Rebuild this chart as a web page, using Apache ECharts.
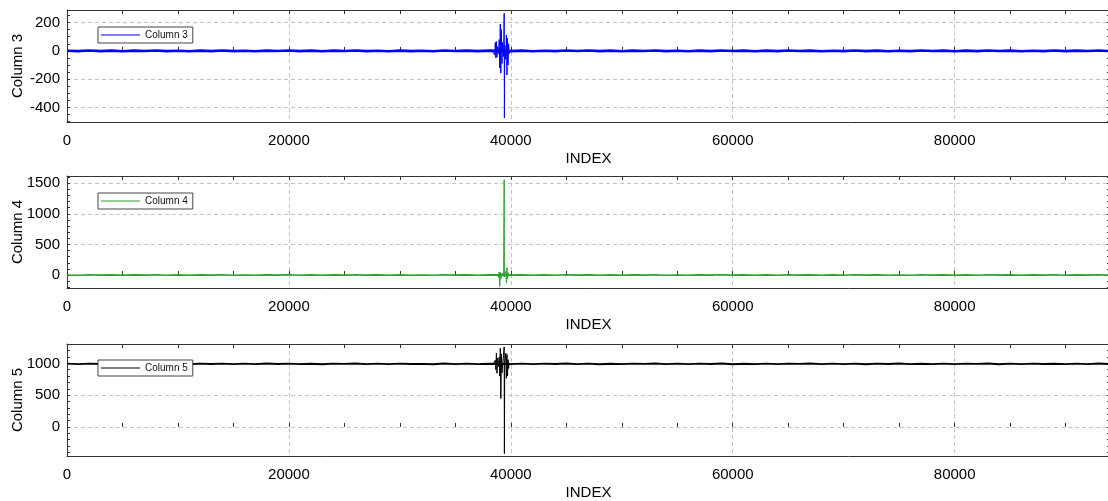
<!DOCTYPE html>
<html><head><meta charset="utf-8">
<script src="https://cdn.jsdelivr.net/npm/echarts@6/dist/echarts.min.js"></script>
<style>html,body{margin:0;padding:0;background:#fff}#c{width:1108px;height:501px}</style>
</head><body><div id="c"></div>
<script>
// ---------------- DATA ----------------
const seriesNames = ['Column 3', 'Column 4', 'Column 5'];
const xTickLabels = [0, 20000, 40000, 60000, 80000];
const col3TickLabels = [-400, -200, 0, 200];
const col4TickLabels = [0, 500, 1000, 1500];
const col5TickLabels = [0, 500, 1000];
const xMin = 0, xMax = 94000;
const col3Range = [-503, 289];
const col4Range = [-212, 1619];
const col5Range = [-458, 1305];

// baseline noise: segment A starts at index 0, segment B at 40000, one sample every 1000 indices
const noiseStep = 1000;
const noiseBStart = 40000;

const col3NoiseA = [1,-2,3,-2,2,-3,2,-1,3,-2,1,-3,2,-2,3,-2,1,-3,2,-1,3,-2,2,-3,2,-1,3,-2,1,-3,2,-2,1,-3,3,-1,2,-2,2];
const col3NoiseB = [-2,2,-3,1,-2,3,-1,3,-2,2,-3,2,-1,3,-2,1,-3,2,-2,3,-1,2,-3,2,-2,3,-1,2,-3,1,-2,3,-2,2,-3,1,-2,3,-1,2,-3,2,-2,3,-1,2,-3,1,-2,3,-2,2,-1,3,-2];
const col3BurstIndex = [38300,38550,38600,38650,38700,38750,38800,38900,38950,39000,39050,39100,39150,39200,39250,39350,39400,39420,39450,39550,39600,39650,39700,39750,39800,39850,39900];
const col3BurstValue = [5,-30,60,-50,66,-45,30,-20,80,-120,190,-157,150,-90,60,-40,266,-475,40,-60,113,-170,90,-100,50,-20,8];

const col4NoiseA = [1,-3,4,-2,3,-4,2,-1,4,-3,2,-4,3,-2,4,-3,1,-4,3,-2,4,-3,2,-4,3,-1,4,-2,2,-4,3,-3,1,-4,4,-2,3,-3,2];
const col4NoiseB = [-2,3,-4,2,-3,4,-1,3,-4,2,-4,3,-2,4,-3,1,-4,3,-2,4,-2,3,-4,2,-3,4,-1,3,-4,2,-3,4,-2,3,-4,1,-3,4,-2,3,-4,2,-3,4,-1,3,-4,2,-2,4,-3,2,-1,4,-2];
const col4BurstIndex = [38850,38900,38950,39000,39050,39100,39200,39350,39400,39420,39550,39600,39650,39700,39750,39850];
const col4BurstValue = [4,-40,50,-185,40,-60,30,-20,1560,-30,60,-125,120,-60,40,-5];

const col5NoiseA = [995,988,997,990,996,987,994,991,998,989,993,986,997,990,996,988,995,987,998,990,996,989,994,986,997,991,998,988,995,987,996,990,993,986,998,989,995,988,994];
const col5NoiseB = [989,996,987,995,990,998,988,997,986,994,989,997,991,998,987,995,988,996,990,998,986,994,989,997,988,995,991,998,987,996,989,997,986,995,990,998,988,994,987,997,989,996,991,998,986,995,988,997,990,994,987,996,989,998,988];
const col5BurstIndex = [38400,38600,38650,38700,38750,38800,38900,38950,39000,39050,39100,39150,39200,39300,39400,39420,39450,39550,39600,39650,39700,39750,39800,39850];
const col5BurstValue = [990,1050,900,1160,845,1080,950,1100,800,1237,448,1150,850,1050,1260,-420,1000,1160,765,1140,800,1060,920,1000];

// ---------------- BUILD ----------------
function noisePoints(noiseA, noiseB) {
  const pts = [];
  noiseA.forEach((v, i) => pts.push([i * noiseStep, v]));
  noiseB.forEach((v, i) => pts.push([noiseBStart + i * noiseStep, v]));
  return pts;
}
function burstPoints(noiseA, burstIdx, burstVal, noiseB) {
  const pts = [[(noiseA.length - 1) * noiseStep, noiseA[noiseA.length - 1]]];
  burstIdx.forEach((x, i) => pts.push([x, burstVal[i]]));
  pts.push([noiseBStart, noiseB[0]]);
  return pts;
}
function stepTicks(from, to, step) {
  const t = [];
  for (let v = from; v <= to; v += step) t.push(v);
  return t;
}
const xMinorTicks = stepTicks(0, 90000, 5000);
const panels = [
  { name: seriesNames[0], color: '#0000ff', range: col3Range, labels: col3TickLabels,
    minor: stepTicks(-500, 250, 50), baseWidth: 2.6,
    base: noisePoints(col3NoiseA, col3NoiseB),
    burst: burstPoints(col3NoiseA, col3BurstIndex, col3BurstValue, col3NoiseB), top: 10, legendTop: 27 },
  { name: seriesNames[1], color: '#2ca02c', range: col4Range, labels: col4TickLabels,
    minor: stepTicks(-200, 1600, 100), baseWidth: 1.6,
    base: noisePoints(col4NoiseA, col4NoiseB),
    burst: burstPoints(col4NoiseA, col4BurstIndex, col4BurstValue, col4NoiseB), top: 176, legendTop: 193 },
  { name: seriesNames[2], color: '#000000', range: col5Range, labels: col5TickLabels,
    minor: stepTicks(-400, 1300, 100), baseWidth: 1.8,
    base: noisePoints(col5NoiseA, col5NoiseB),
    burst: burstPoints(col5NoiseA, col5BurstIndex, col5BurstValue, col5NoiseB), top: 344, legendTop: 360 }
];

const font = 'Liberation Sans';
const axisColor = '#333';
const gridLineColor = '#c4c4c4';
const plain = v => String(v);
const grids = [], xAxes = [], yAxes = [], series = [], legends = [];

panels.forEach((p, g) => {
  grids.push({ left: 67, width: 1043, top: p.top, height: 112, containLabel: false, outerBoundsMode: 'none' });
  const xi = xAxes.length, yi = yAxes.length;
  xAxes.push({
    type: 'value', gridIndex: g, min: xMin, max: xMax, position: 'bottom',
    axisLine: { show: true, onZero: false, lineStyle: { color: axisColor, width: 1 } },
    axisTick: { show: false, customValues: xTickLabels },
    axisLabel: { customValues: xTickLabels, formatter: plain, fontSize: 15, fontFamily: font, color: '#000', margin: 11 },
    splitLine: { show: true, lineStyle: { type: [4, 3], color: gridLineColor, width: 1 } },
    name: 'INDEX', nameLocation: 'middle', nameGap: 29, nameMoveOverlap: false,
    nameTextStyle: { fontSize: 15, fontFamily: font, color: '#000' }
  });
  xAxes.push({
    type: 'value', gridIndex: g, min: xMin, max: xMax, position: 'bottom',
    axisLine: { show: false }, axisLabel: { show: false }, splitLine: { show: false },
    axisTick: { show: true, inside: true, length: 4, customValues: xMinorTicks, lineStyle: { color: axisColor } }
  });
  xAxes.push({
    type: 'value', gridIndex: g, min: xMin, max: xMax, position: 'top',
    axisLine: { show: true, onZero: false, lineStyle: { color: axisColor, width: 1 } },
    axisLabel: { show: false }, splitLine: { show: false },
    axisTick: { show: true, inside: true, length: 4, customValues: xMinorTicks, lineStyle: { color: axisColor } }
  });
  yAxes.push({
    type: 'value', gridIndex: g, min: p.range[0], max: p.range[1], position: 'left',
    axisLine: { show: true, onZero: false, lineStyle: { color: axisColor, width: 1 } },
    axisTick: { show: false, customValues: p.labels },
    axisLabel: { customValues: p.labels, formatter: plain, fontSize: 15, fontFamily: font, color: '#000', margin: 7 },
    splitLine: { show: true, lineStyle: { type: [4, 3], color: gridLineColor, width: 1 } },
    name: p.name, nameLocation: 'middle', nameGap: 42, nameMoveOverlap: false,
    nameTextStyle: { fontSize: 15, fontFamily: font, color: '#000' }
  });
  yAxes.push({
    type: 'value', gridIndex: g, min: p.range[0], max: p.range[1], position: 'left',
    axisLine: { show: false }, axisLabel: { show: false }, splitLine: { show: false },
    axisTick: { show: true, inside: true, length: 3, customValues: p.minor, lineStyle: { color: axisColor } }
  });
  yAxes.push({
    type: 'value', gridIndex: g, min: p.range[0], max: p.range[1], position: 'right',
    axisLine: { show: true, onZero: false, lineStyle: { color: axisColor, width: 1 } },
    axisLabel: { show: false }, splitLine: { show: false },
    axisTick: { show: true, inside: true, length: 3, customValues: p.minor, lineStyle: { color: axisColor } }
  });
  series.push({
    type: 'line', name: p.name, xAxisIndex: xi, yAxisIndex: yi, data: p.base,
    symbol: 'none', showSymbol: false, lineStyle: { color: p.color, width: p.baseWidth }, itemStyle: { color: p.color },
    animation: false, clip: true, z: 3
  });
  series.push({
    type: 'line', name: p.name, xAxisIndex: xi, yAxisIndex: yi, data: p.burst,
    symbol: 'none', showSymbol: false, lineStyle: { color: p.color, width: 1 }, itemStyle: { color: p.color },
    animation: false, clip: true, z: 3
  });
  legends.push({
    data: [{ name: p.name, icon: 'rect' }], left: 98, top: p.legendTop, orient: 'horizontal',
    itemWidth: 39, itemHeight: 1, itemGap: 0, padding: [2, 5, 2, 3],
    borderColor: '#444', borderWidth: 1, borderRadius: 0, backgroundColor: '#fff',
    itemStyle: { color: p.color, borderWidth: 0 },
    textStyle: { fontSize: 10, fontFamily: font, color: '#111', lineHeight: 12 },
    selectedMode: false, z: 10
  });
});

const chart = echarts.init(document.getElementById('c'), null, { renderer: 'canvas' });
chart.setOption({
  animation: false,
  backgroundColor: '#fff',
  grid: grids, xAxis: xAxes, yAxis: yAxes, series: series, legend: legends
});
</script>
</body></html>
